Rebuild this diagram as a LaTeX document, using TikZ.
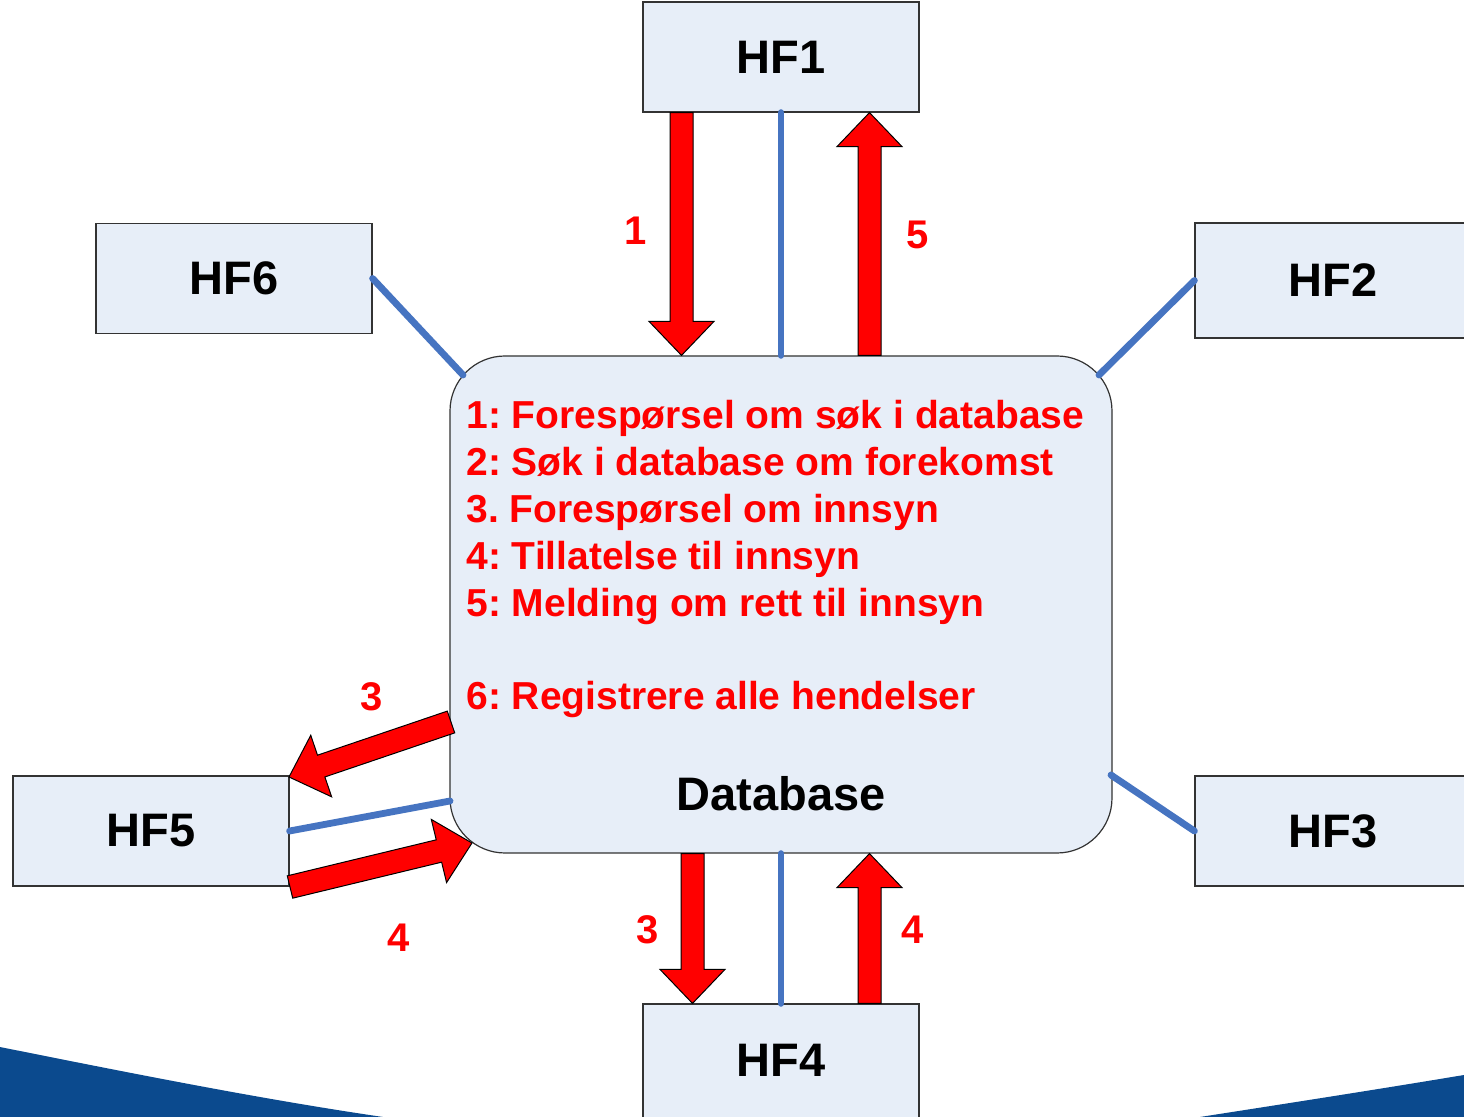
\documentclass[tikz,border=0pt]{standalone}
\usepackage{fontspec}
\setmainfont{Liberation Sans}
\usetikzlibrary{calc}
\definecolor{boxfill}{HTML}{E7EEF8}
\definecolor{linkblue}{HTML}{4674C1}
\definecolor{swoosh}{HTML}{0B4A8E}
\newcommand\blockarrow[2]{%
  \draw[blockarr] let \p1=($(#2)-(#1)$), \n1={veclen(\x1,\y1)}, \n2={atan2(\y1,\x1)} in
    [shift={(#1)}, rotate=\n2]
    (0pt,5.75pt) -- ({\n1*1pt-17pt},5.75pt) -- ({\n1*1pt-17pt},16.25pt) -- ({\n1*1pt},0pt)
    -- ({\n1*1pt-17pt},-16.25pt) -- ({\n1*1pt-17pt},-5.75pt) -- (0pt,-5.75pt) -- cycle;}
\frenchspacing
\begin{document}
\begin{tikzpicture}[x=0.5pt,y=-0.5pt,
  hfbox/.style={draw=black!80, line width=0.6pt, fill=boxfill, minimum width=138pt,
    minimum height=55pt, inner sep=0pt, font=\bfseries\fontsize{23.5}{28}\selectfont},
  link/.style={draw=linkblue, line width=3.4pt, line cap=round},
  lbl/.style={text=red, font=\bfseries\fontsize{20}{24}\selectfont, inner sep=0pt},
  item/.style={text=red, font=\bfseries\fontsize{19.5}{23}\selectfont, anchor=base west, inner sep=0pt},
  blockarr/.style={fill=red, draw=black, line width=0.5pt, line join=miter}]
\path[use as bounding box, fill=white] (0,0) rectangle (1464,1117);
\clip (0,0) rectangle (1464,1117);
% bottom swoosh
\fill[swoosh] (0,1047) .. controls (130,1073) and (260,1099) .. (383,1117) -- (0,1117) -- cycle;
\fill[swoosh] (1464,1075) .. controls (1380,1089) and (1290,1103) .. (1200,1117) -- (1464,1117) -- cycle;
% database
\node[draw=black!80, line width=0.6pt, fill=boxfill, rounded corners=27.5pt,
  minimum width=331pt, minimum height=248.5pt, inner sep=0pt] (db) at (781,604.5) {};
% HF boxes
\node[hfbox] (hf1) at (781,57) {HF1};
\node[hfbox] (hf6) at (234,278.5) {HF6};
\node[hfbox, minimum height=57.5pt] (hf2) at (1333,280.5) {HF2};
\node[hfbox] (hf5) at (151,831) {HF5};
\node[hfbox] (hf3) at (1333,831) {HF3};
\node[hfbox, minimum height=65pt] (hf4) at (781,1069) {};
\node[font=\bfseries\fontsize{23.5}{28}\selectfont, inner sep=0pt] (hf4t) at (781,1060) {HF4};
% blue links
\coordinate (c6) at (463,375);
\coordinate (c2) at (1099,375);
\coordinate (c3) at (1111,775);
\coordinate (c5) at (450,801);
\draw[link] (hf6.east) -- (c6);
\draw[link] (hf2.west) -- (c2);
\draw[link] (hf3.west) -- (c3);
\draw[link] (hf5.east) -- (c5);
\draw[link] (hf1.south) -- (db.north);
\draw[link] (hf4.north) -- (db.south);
% red block arrows
\coordinate (a1s) at ($(hf1.south)+(-99.5,0)$);
\coordinate (a1e) at ($(db.north)+(-99.5,0)$);
\coordinate (a5s) at ($(db.north)+(88.5,0)$);
\coordinate (a5e) at ($(hf1.south)+(88.5,0)$);
\coordinate (b3s) at ($(db.south)+(-88.5,0)$);
\coordinate (b3e) at ($(hf4.north)+(-88.5,0)$);
\coordinate (b4s) at ($(hf4.north)+(88.5,0)$);
\coordinate (b4e) at ($(db.south)+(88.5,0)$);
\coordinate (l3s) at (451,722);
\coordinate (l3e) at (289,777);
\coordinate (l4s) at (290,887);
\coordinate (l4e) at (472,843);
\blockarrow{a1s}{a1e}
\blockarrow{a5s}{a5e}
\blockarrow{b3s}{b3e}
\blockarrow{b4s}{b4e}
\blockarrow{l3s}{l3e}
\blockarrow{l4s}{l4e}
% arrow labels
\node[lbl] (n1) at (636,231) {1};
\node[lbl] (n5) at (918,235) {5};
\node[lbl] (n3a) at (372,697) {3};
\node[lbl] (n4a) at (399,938) {4};
\node[lbl] (n3b) at (648,930) {3};
\node[lbl] (n4b) at (913,930) {4};
% list
\node[item] (i1) at (466,429) {1: Forespørsel om søk i database};
\node[item] (i2) at (466,476) {2: Søk i database om forekomst};
\node[item] (i3) at (466,523) {3. Forespørsel om innsyn};
\node[item] (i4) at (466,570) {4: Tillatelse til innsyn};
\node[item] (i5) at (466,617) {5: Melding om rett til innsyn};
\node[item] (i6) at (466,710) {6: Registrere alle hendelser};
\node[font=\bfseries\fontsize{23.5}{28}\selectfont, inner sep=0pt, anchor=base] (dbt) at (781,811) {Database};
\end{tikzpicture}
\end{document}
